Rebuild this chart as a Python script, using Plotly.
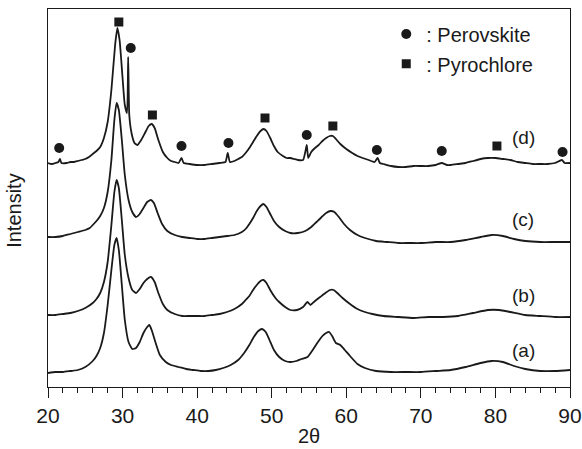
import plotly.graph_objects as go

# ---- data (2-theta in degrees, stacked intensity in arbitrary units) ----
x_d = [20.0, 20.5, 21.0, 21.4, 21.6, 21.8, 22.5, 23.0, 23.5, 24.0, 24.5, 25.0, 25.5, 26.0, 26.5, 27.0,
       27.5, 28.0, 28.5, 29.0, 29.3, 29.6, 30.0, 30.3, 30.6, 30.75, 30.9, 31.2, 31.6, 32.0, 32.5, 33.0,
       33.5, 33.9, 34.3, 34.8, 35.4, 36.0, 36.5, 37.0, 37.5, 37.9, 38.2, 39.0, 40.0, 41.0, 42.0, 43.0,
       43.8, 44.1, 44.4, 45.0, 45.5, 46.0, 46.5, 47.0, 47.5, 48.0, 48.5, 48.9, 49.3, 49.8, 50.3, 50.8,
       51.5, 52.0, 52.5, 53.0, 53.5, 54.2, 54.5, 54.7, 54.9, 55.3, 55.8, 56.3, 56.8, 57.3, 57.8, 58.2,
       58.6, 59.2, 60.0, 60.8, 61.5, 62.2, 63.0, 63.8, 64.2, 64.5, 65.0, 66.0, 67.0, 68.0, 69.0, 70.0,
       71.0, 72.0, 72.8, 73.5, 74.0, 75.0, 76.0, 77.0, 78.0, 79.0, 80.0, 81.0, 82.0, 83.0, 84.0, 85.0,
       86.0, 87.0, 88.0, 88.9, 89.3, 90.0]
y_d = [224, 223, 224, 225, 228, 224, 224, 225, 225, 226, 227, 228, 230, 233, 236, 240,
       249, 265, 297, 342, 359, 347, 309, 282, 274, 330, 272, 254, 244, 242, 247, 254,
       261, 263, 259, 247, 235, 229, 226, 225, 224, 229, 224, 223, 222, 222, 223, 224,
       225, 234, 225, 226, 228, 230, 234, 239, 245, 251, 256, 258, 256, 249, 241, 235,
       231, 229, 229, 228, 227, 227, 235, 242, 229, 235, 239, 242, 246, 249, 251, 251,
       248, 243, 238, 234, 231, 229, 227, 225, 229, 224, 223, 221, 220, 220, 221, 221,
       221, 222, 224, 222, 222, 223, 224, 226, 228, 229, 229, 228, 227, 225, 224, 223,
       223, 223, 224, 227, 224, 224]

x_c = [20, 21, 22, 23, 24, 25, 25.6, 26, 26.5, 27, 27.5, 28, 28.5, 28.9, 29.2, 29.5, 29.9, 30.3,
       30.8, 31.3, 31.8, 32.3, 32.8, 33.3, 33.8, 34.2, 34.7, 35.3, 36, 37, 38, 39, 40, 41, 42, 43,
       44, 45, 46, 46.5, 47, 47.5, 48, 48.5, 48.9, 49.3, 49.8, 50.3, 51, 51.8, 52.5, 53.5, 54.5,
       55.3, 56, 56.7, 57.3, 57.9, 58.4, 59, 59.7, 60.5, 61.5, 62.5, 64, 65.5, 67, 68.5, 70, 72,
       74, 76, 78, 79.5, 81, 82.5, 84, 86, 88, 90]
y_c = [150, 150, 151, 153, 155, 157, 159, 162, 166, 171, 179, 195, 227, 267, 284, 277, 247, 212,
       187, 175, 170, 173, 179, 185, 187, 184, 174, 163, 156, 152, 150, 149, 148, 148, 149, 150,
       151, 152, 155, 158, 163, 169, 176, 181, 183, 180, 173, 166, 160, 156, 154, 154, 156,
       160, 165, 170, 174, 176, 175, 170, 163, 157, 152, 149, 146, 145, 144, 144, 144, 145,
       145, 147, 150, 152, 151, 148, 146, 145, 145, 145]

x_b = [20, 21, 22, 23, 24, 25, 26, 26.5, 27, 27.5, 28, 28.5, 28.9, 29.2, 29.5, 29.9, 30.3, 30.8,
       31.3, 31.8, 32.3, 32.8, 33.3, 33.8, 34.3, 34.8, 35.4, 36, 37, 38, 39, 40, 41, 42, 43, 44,
       45, 46, 46.5, 47, 47.5, 48, 48.5, 48.9, 49.3, 49.8, 50.5, 51, 51.8, 52.5, 53.4, 54.2, 54.8,
       55.2, 55.8, 56.5, 57.2, 57.8, 58.3, 58.8, 59.5, 60.5, 61.5, 62.5, 63.5, 65, 67, 69, 71, 73,
       75, 77, 79, 80.5, 82, 84, 86, 88, 90]
y_b = [72, 72, 73, 74, 76, 79, 84, 88, 94, 105, 125, 162, 195, 207, 199, 167, 132, 109,
       97, 94, 98, 104, 108, 110, 105, 94, 83, 77, 73, 71, 71, 71, 71, 72, 73, 75,
       78, 83, 87, 91, 97, 102, 106, 107, 104, 97, 89, 85, 80, 77, 77, 80, 85,
       82, 86, 90, 94, 97, 97, 94, 89, 83, 78, 75, 73, 71, 70, 69, 70, 70,
       71, 74, 77, 77, 75, 72, 71, 70, 70]

x_a = [20, 21, 22, 23, 24, 25, 26, 26.5, 27, 27.5, 28, 28.5, 28.9, 29.2, 29.5, 29.9, 30.3, 30.8,
       31.3, 31.8, 32.3, 32.8, 33.3, 33.6, 33.9, 34.4, 35, 35.8, 36.5, 37.5, 38.5, 39.5, 40.5, 41.5,
       42.5, 43.5, 44.5, 45.5, 46.3, 47, 47.6, 48.2, 48.7, 49.2, 49.7, 50.3, 51, 51.8, 52.5, 53.3,
       54, 54.8, 55.5, 56.2, 56.8, 57.3, 57.7, 58.1, 58.6, 59.2, 59.8, 60.5, 61.5, 62.5, 64, 66,
       68, 70, 72, 74, 76, 78, 79.5, 81, 82.5, 84, 86, 88, 90]
y_a = [14, 15, 15, 16, 17, 20, 26, 31, 39, 54, 82, 117, 142, 149, 137, 102, 67, 45,
       38, 39, 45, 54, 60, 62, 57, 45, 32, 25, 22, 20, 18, 17, 16, 16,
       17, 19, 22, 27, 34, 42, 50, 56, 58, 55, 47, 37, 30, 26, 25, 26,
       28, 30, 37, 45, 51, 54, 55, 51, 44, 42, 37, 31, 23, 19, 16, 15,
       15, 15, 16, 17, 20, 24, 26, 25, 21, 18, 16, 16, 17]

# phase markers for pattern (d)
perov_x = [21.5, 31.1, 37.9, 44.2, 54.7, 64.1, 72.8, 89.0]
perov_y = [239, 339, 241, 244, 252, 237, 236, 235]
pyro_x = [29.5, 34.0, 49.1, 58.2, 80.2]
pyro_y = [365, 272, 269, 261, 241]

labels = ["(d)", "(c)", "(b)", "(a)"]
label_x = [83.7, 83.7, 83.7, 83.7]
label_y = [250, 168, 92, 37]

FONT = "Liberation Sans, Arial, sans-serif"
INK = "#1a1a1a"

fig = go.Figure()
for xs, ys in [(x_d, y_d), (x_c, y_c), (x_b, y_b), (x_a, y_a)]:
    fig.add_trace(go.Scatter(x=xs, y=ys, mode="lines", showlegend=False,
                             line=dict(color=INK, width=1.8, shape="spline", smoothing=0.5),
                             hoverinfo="skip"))

fig.add_trace(go.Scatter(x=perov_x, y=perov_y, mode="markers", name=": Perovskite",
                         marker=dict(symbol="circle", size=10, color=INK), legend="legend"))
fig.add_trace(go.Scatter(x=pyro_x, y=pyro_y, mode="markers", name=": Pyrochlore",
                         marker=dict(symbol="square", size=9, color=INK), legend="legend2"))

for t, lx, ly in zip(labels, label_x, label_y):
    fig.add_annotation(x=lx, y=ly, xref="x", yref="y", text=t, showarrow=False,
                       font=dict(family=FONT, size=19, color=INK))

fig.add_annotation(x=-0.064, y=0.465, xref="paper", yref="paper", text="Intensity",
                   xanchor="center", yanchor="middle",
                   textangle=-90, showarrow=False, font=dict(family=FONT, size=20, color=INK))
fig.add_annotation(x=0.5, y=-0.1305, xref="paper", yref="paper", text="2θ",
                   xanchor="center", yanchor="middle",
                   showarrow=False, font=dict(family=FONT, size=20, color=INK))

legend_common = dict(bgcolor="rgba(0,0,0,0)", borderwidth=0, itemwidth=30,
                     font=dict(family=FONT, size=20, color=INK),
                     xanchor="left", yanchor="middle", itemclick=False)
fig.update_layout(
    width=582, height=449,
    margin=dict(l=48, r=12, t=9, b=62, autoexpand=False),
    paper_bgcolor="white", plot_bgcolor="white",
    legend=dict(x=0.648, y=0.934, **legend_common),
    legend2=dict(x=0.648, y=0.855, **legend_common),
    xaxis=dict(range=[20, 90], dtick=10, tick0=20, ticks="outside", ticklen=10, tickwidth=1,
               tickcolor=INK, showline=True, linecolor=INK, linewidth=1, mirror=True,
               showgrid=False, zeroline=False, automargin=False,
               tickfont=dict(family=FONT, size=21, color=INK),
               minor=dict(dtick=2, ticks="outside", ticklen=5, tickcolor=INK, showgrid=False)),
    yaxis=dict(range=[0, 378], showticklabels=False, ticks="", showline=True, linecolor=INK,
               linewidth=1, mirror=True, showgrid=False, zeroline=False, automargin=False),
    showlegend=True,
)

fig.write_html("out.html", config={"displayModeBar": False},
               post_script="document.body.style.margin='0';")
